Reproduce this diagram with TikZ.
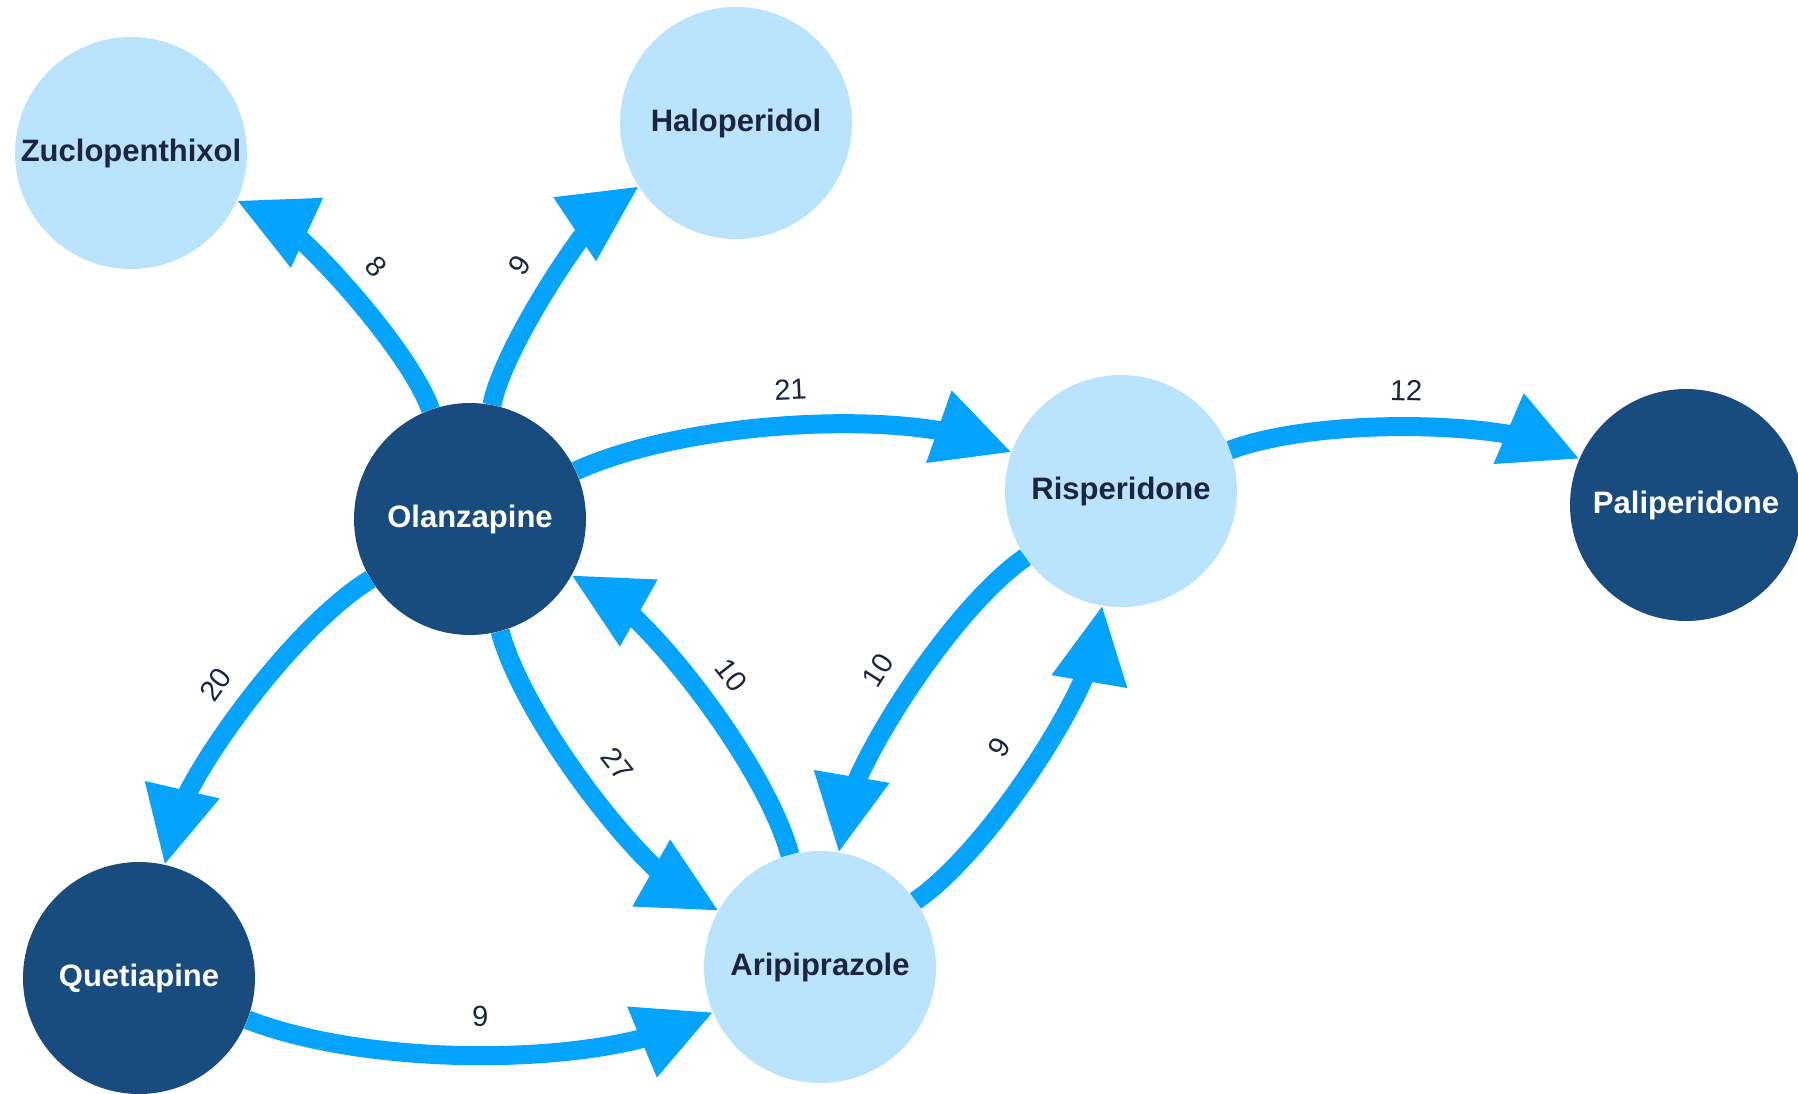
\documentclass[tikz,border=0pt]{standalone}
\usepackage{fontspec}
\setmainfont{Liberation Sans}
\usetikzlibrary{arrows.meta,decorations.markings}
\definecolor{darknode}{RGB}{25,76,126}
\definecolor{lightnode}{RGB}{186,227,253}
\definecolor{flow}{RGB}{4,164,254}
\definecolor{ink}{RGB}{27,36,64}
\begin{document}
\begin{tikzpicture}[x=1pt,y=1pt,
  drug/.style={circle, minimum size=232pt, inner sep=0pt,
    font=\fontsize{31}{36}\selectfont\bfseries},
  darkdrug/.style={drug, fill=darknode, text=white},
  lightdrug/.style={drug, fill=lightnode, text=ink},
  % shaft stops inside the head; the head sits on the end of the full curve
  flowedge/.style={draw=flow, line width=19pt, shorten >=36pt,
    postaction={decorate},
    decoration={markings, mark=at position -1pt with
      {\arrow{Triangle[length=76pt,width=77pt,line width=0pt,color=flow]}}}},
  wt/.style={sloped, above=16pt, inner sep=2pt, text=ink,
    font=\fontsize{29}{34}\selectfont}
]
\fill[white] (0,0) rectangle (1798,-1093);
\useasboundingbox (0,0) rectangle (1798,-1093);

% drugs
\node[lightdrug] (zu) at (131,-153)  {Zuclopenthixol};
\node[lightdrug] (ha) at (736,-123)  {Haloperidol};
\node[darkdrug]  (ol) at (470,-519)  {Olanzapine};
\node[lightdrug] (ri) at (1121,-491) {Risperidone};
\node[darkdrug]  (pa) at (1686,-505) {Paliperidone};
\node[darkdrug]  (qu) at (139,-978)  {Quetiapine};
\node[lightdrug] (ar) at (820,-967)  {Aripiprazole};

% switches between drugs
\draw[flowedge] (ol) to[bend right=23, looseness=0.60] node[wt] {8}  (zu);
\draw[flowedge] (ol) to[bend left=23,  looseness=0.58] node[wt] {9}  (ha);
\draw[flowedge] (ol) to[bend left=22,  looseness=0.72] node[wt] {21} (ri);
\draw[flowedge] (ri) to[bend left=22,  looseness=0.68] node[wt] {12} (pa);
\draw[flowedge] (ol) to[bend right=23, looseness=0.66] node[wt] {20} (qu);
\draw[flowedge] (ol) to[bend right=23, looseness=0.66] node[wt] {27} (ar);
\draw[flowedge] (ar) to[bend right=23, looseness=0.66] node[wt] {10} (ol);
\draw[flowedge] (qu) to[bend right=22, looseness=0.74] node[wt] {9}  (ar);
\draw[flowedge] (ri) to[bend right=23, looseness=0.66] node[wt] {10} (ar);
\draw[flowedge] (ar) to[bend right=23, looseness=0.66] node[wt] {9}  (ri);
\end{tikzpicture}
\end{document}
